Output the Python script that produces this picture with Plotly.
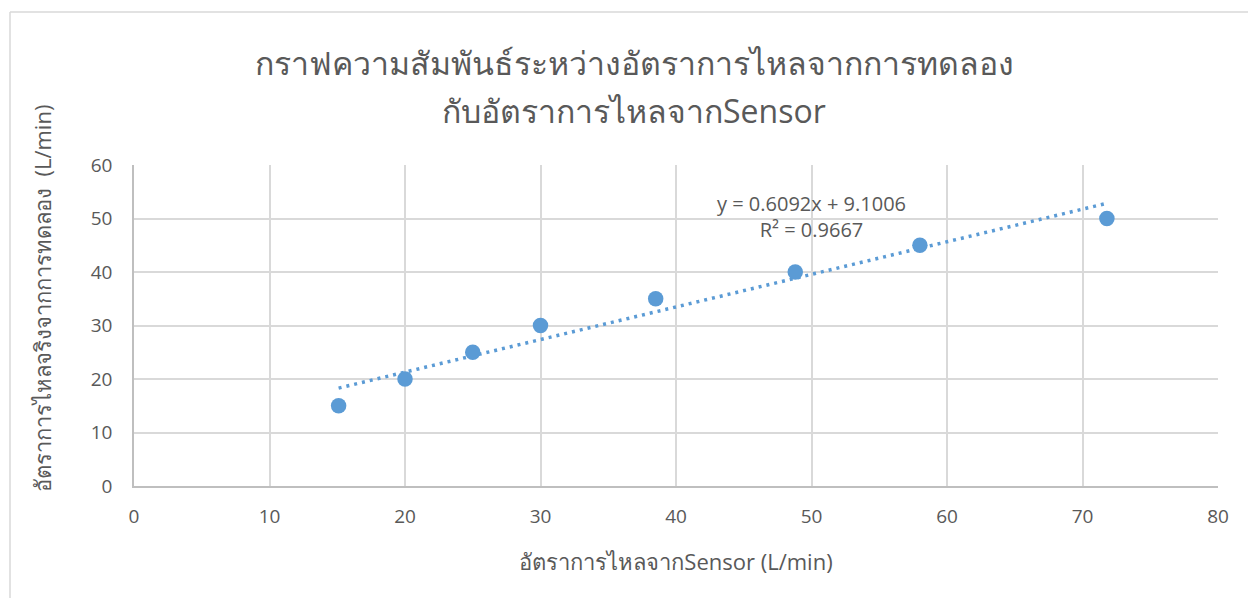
import plotly.graph_objects as go

# Measured flow: sensor reading vs. experiment (L/min)
sensor_flow = [15.1, 20.0, 25.0, 30.0, 38.5, 48.8, 58.0, 71.8]
measured_flow = [15, 20, 25, 30, 35, 40, 45, 50]

# Linear trendline coefficients
slope = 0.6092
intercept = 9.1006
r_squared = 0.9667

x_ticks = [0, 10, 20, 30, 40, 50, 60, 70, 80]
y_ticks = [0, 10, 20, 30, 40, 50, 60]

title_lines = [
    "กราฟความสัมพันธ์ระหว่างอัตราการไหลจากการทดลอง",
    "กับอัตราการไหลจากSensor",
]
x_title = "อัตราการไหลจากSensor (L/min)"
y_title = "อัตราการไหลจริงจากการทดลอง  (L/min)"

BLUE = "#5b9bd5"
TEXT = "#595959"
GRID = "#d9d9d9"
FONT = "Open Sans, Noto Sans, sans-serif"

W, H = 1248, 598
ML, MR, MT, MB = 134, 30, 165, 112

trend_x = [min(sensor_flow), max(sensor_flow)]
trend_y = [slope * v + intercept for v in trend_x]

fig = go.Figure()
fig.add_trace(go.Scatter(
    x=trend_x, y=trend_y, mode="lines",
    line=dict(color=BLUE, width=3.5, dash="3px,5px"),
    hoverinfo="skip", showlegend=False,
))
fig.add_trace(go.Scatter(
    x=sensor_flow, y=measured_flow, mode="markers",
    marker=dict(color=BLUE, size=15.5, line=dict(width=0)),
    showlegend=False,
))

pw = W - ML - MR
ph = H - MT - MB


def px_x(p):
    return (p - ML) / pw


def px_y(p):
    return (H - MB - p) / ph


annotations = [
    dict(
        text=f"y = {slope}x + {intercept}<br>R² = {r_squared}",
        x=px_x(811), y=px_y(216), xref="paper", yref="paper",
        xanchor="center", yanchor="middle",
        showarrow=False, align="center",
        font=dict(size=20, color=TEXT),
    ),
    dict(
        text=y_title, textangle=-90,
        x=px_x(42), y=px_y(299), xref="paper", yref="paper",
        xanchor="center", yanchor="middle", showarrow=False,
        font=dict(size=22, color=TEXT),
    ),
]
for line, ypx in zip(title_lines, [62, 110]):
    annotations.append(dict(
        text=line, x=px_x(634), y=px_y(ypx), xref="paper", yref="paper",
        xanchor="center", yanchor="middle", showarrow=False,
        font=dict(size=32, color=TEXT),
    ))

fig.update_layout(
    width=W, height=H,
    margin=dict(l=ML, r=MR, t=MT, b=MB),
    paper_bgcolor="white", plot_bgcolor="white",
    font=dict(family=FONT, color=TEXT, size=19),
    xaxis=dict(
        range=[0, 80], tickvals=x_ticks, showgrid=True, gridcolor=GRID, gridwidth=1.5,
        zeroline=False, showline=True, linecolor="#bfbfbf", linewidth=1.5,
        ticks="", ticklabelstandoff=12, tickfont=dict(size=19, color=TEXT),
        title=dict(text=x_title, standoff=27, font=dict(size=22, color=TEXT)),
        fixedrange=True,
    ),
    yaxis=dict(
        range=[0, 60], tickvals=y_ticks, showgrid=True, gridcolor=GRID, gridwidth=1.5,
        zeroline=False, showline=True, linecolor="#bfbfbf", linewidth=1.5,
        ticks="", ticklabelstandoff=16, tickfont=dict(size=19, color=TEXT),
        fixedrange=True,
    ),
    annotations=annotations,
    shapes=[
        dict(type="line", xref="paper", yref="paper",
             x0=px_x(10), x1=px_x(1260), y0=px_y(12), y1=px_y(12),
             line=dict(color=GRID, width=1.5)),
        dict(type="line", xref="paper", yref="paper",
             x0=px_x(10), x1=px_x(10), y0=px_y(12), y1=px_y(610),
             line=dict(color=GRID, width=1.5)),
    ],
)

fig.write_html("out.html")
